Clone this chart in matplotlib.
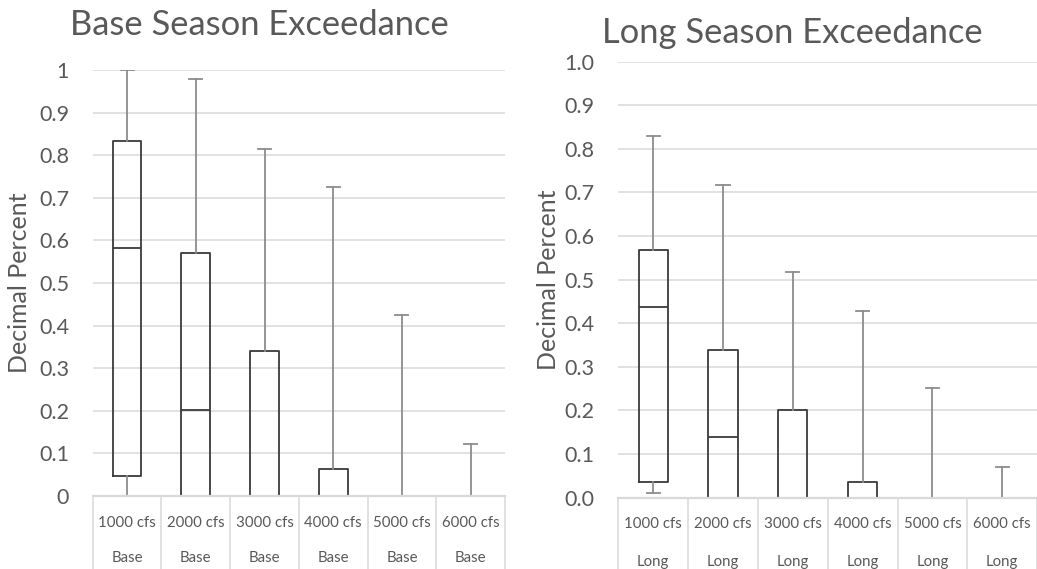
import matplotlib.pyplot as plt
import matplotlib.transforms as mtransforms
from matplotlib.ticker import FormatStrFormatter

plt.rcParams['font.family'] = ['Lato', 'DejaVu Sans']

flows = ['1000 cfs', '2000 cfs', '3000 cfs', '4000 cfs', '5000 cfs', '6000 cfs']

# base season exceedance stats per flow
base_min = [0.0, 0.0, 0.0, 0.0, 0.0, 0.0]
base_q1 = [0.048, 0.0, 0.0, 0.0, 0.0, 0.0]
base_med = [0.583, 0.202, 0.0, 0.0, 0.0, 0.0]
base_q3 = [0.834, 0.570, 0.340, 0.063, 0.0, 0.0]
base_max = [1.0, 0.980, 0.815, 0.725, 0.425, 0.121]

# long season exceedance stats per flow
long_min = [0.010, 0.0, 0.0, 0.0, 0.0, 0.0]
long_q1 = [0.036, 0.0, 0.0, 0.0, 0.0, 0.0]
long_med = [0.437, 0.140, 0.0, 0.0, 0.0, 0.0]
long_q3 = [0.567, 0.339, 0.201, 0.036, 0.0, 0.0]
long_max = [0.830, 0.717, 0.518, 0.428, 0.251, 0.071]

txt = '#595959'
grid = '#d9d9d9'

fig = plt.figure(figsize=(10.37, 5.69), dpi=100)
ax1 = fig.add_axes([0.0894, 0.1283, 0.3976, 0.7487])
ax2 = fig.add_axes([0.5963, 0.1253, 0.4038, 0.7663])


def draw(ax, lo, q1, med, q3, hi, season, fmt, row1_y, row2_y):
    stats = []
    for i in range(len(flows)):
        stats.append(dict(whislo=lo[i], q1=q1[i], med=med[i], q3=q3[i],
                          whishi=hi[i], fliers=[], label=flows[i]))
    ax.bxp(stats, positions=range(len(flows)), widths=0.42, capwidths=0.19,
           showfliers=False, patch_artist=False,
           boxprops=dict(color='#3a3a3a', linewidth=1.3),
           medianprops=dict(color='#3a3a3a', linewidth=1.3),
           whiskerprops=dict(color='#8c8c8c', linewidth=1.3),
           capprops=dict(color='#8c8c8c', linewidth=1.3))
    ax.set_xlim(-0.5, len(flows) - 0.5)
    ax.set_ylim(0, 1.0)
    ax.set_yticks([i / 10 for i in range(11)])
    ax.yaxis.set_major_formatter(FormatStrFormatter(fmt))
    ax.yaxis.grid(True, color=grid, linewidth=1.1)
    ax.set_axisbelow(True)
    for s in ax.spines.values():
        s.set_visible(False)
    ax.tick_params(axis='y', length=0, pad=17, labelsize=15.5, labelcolor=txt)
    ax.set_xticks([])
    ax.axhline(0, color=grid, linewidth=1.6, zorder=5, clip_on=False)

    # category table under the plot
    tr = mtransforms.blended_transform_factory(ax.transData, fig.transFigure)
    bottom = ax.get_position().y0
    for k in range(len(flows) + 1):
        ax.plot([k - 0.5, k - 0.5], [bottom, 0], color=grid, linewidth=1.1,
                transform=tr, clip_on=False)
    for i, f in enumerate(flows):
        ax.text(i, row1_y, f, transform=tr, ha='center', va='center',
                fontsize=10.8, color=txt)
        ax.text(i, row2_y, season, transform=tr, ha='center', va='center',
                fontsize=10.8, color=txt)
    ax.set_ylabel('Decimal Percent', fontsize=18, color=txt)


draw(ax1, base_min, base_q1, base_med, base_q3, base_max, 'Base', '%g', 0.0814, 0.0193)
draw(ax2, long_min, long_q1, long_med, long_q3, long_max, 'Long', '%.1f', 0.079, 0.0128)
ax1.yaxis.set_label_coords(-0.150, 0.5)
ax2.yaxis.set_label_coords(-0.139, 0.5)

fig.text(0.25, 0.956, 'Base Season Exceedance', ha='center', va='center',
         fontsize=24.8, color=txt)
fig.text(0.764, 0.942, 'Long Season Exceedance', ha='center', va='center',
         fontsize=24.8, color=txt)

fig.savefig('out.png', dpi=100)
